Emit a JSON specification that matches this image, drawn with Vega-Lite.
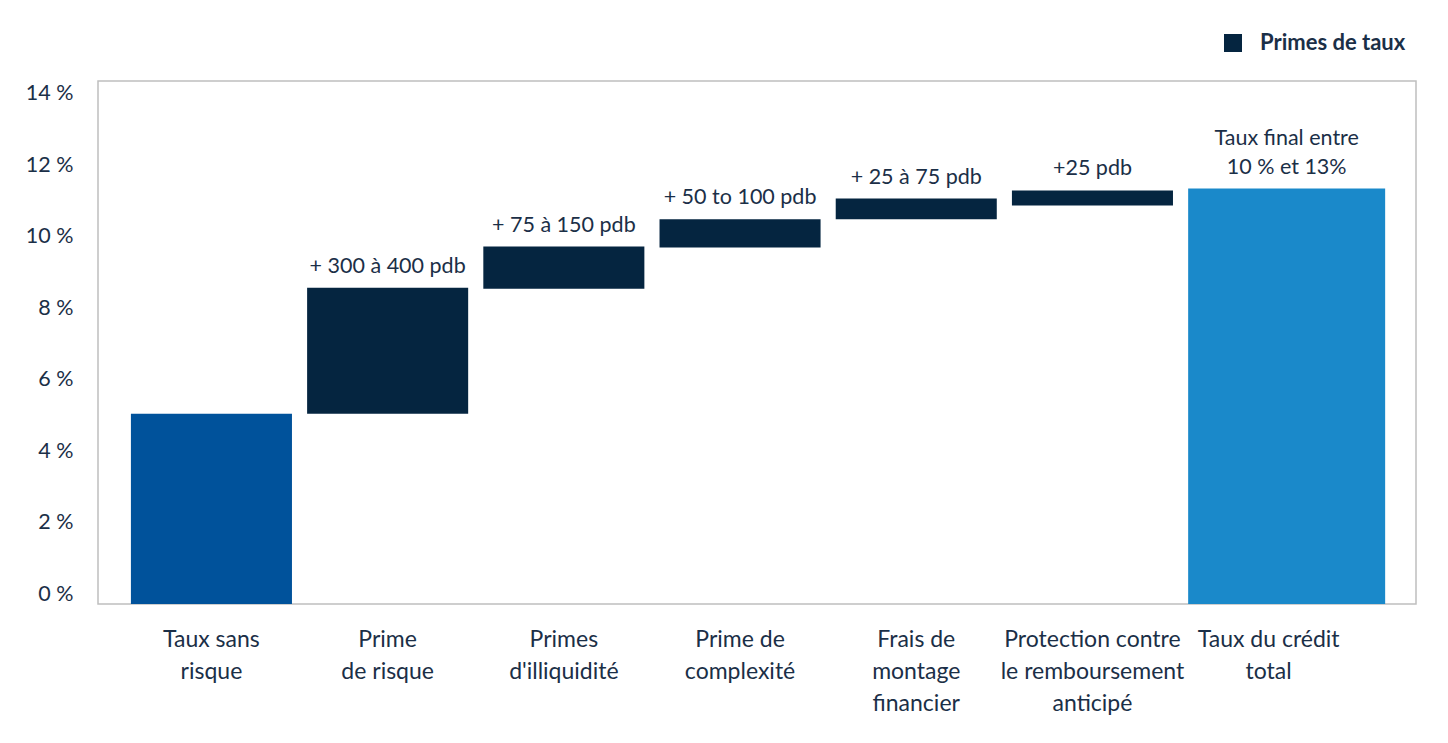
{
  "$schema": "https://vega.github.io/schema/vega-lite/v6.json",
  "width": 1318,
  "height": 523,
  "autosize": {"type": "none"},
  "padding": {"left": 98, "top": 81, "right": 32, "bottom": 139},
  "background": "#ffffff",
  "config": {
    "font": "Lato",
    "view": {"stroke": "#bfbfbf", "strokeWidth": 1.5},
    "text": {"font": "Lato", "color": "#1b2f47"}
  },
  "data": {
    "values": [
      {"category": "Taux sans\nrisque", "start": 0, "end": 5.32, "group": "Base", "label": ""},
      {"category": "Prime\nde risque", "start": 5.32, "end": 8.85, "group": "Primes de taux", "label": "+ 300 à 400 pdb"},
      {"category": "Primes\nd'illiquidité", "start": 8.82, "end": 10.0, "group": "Primes de taux", "label": "+ 75 à 150 pdb"},
      {"category": "Prime de\ncomplexité", "start": 9.97, "end": 10.76, "group": "Primes de taux", "label": "+ 50 to 100 pdb"},
      {"category": "Frais de\nmontage\nfinancier", "start": 10.76, "end": 11.34, "group": "Primes de taux", "label": "+ 25 à 75 pdb"},
      {"category": "Protection contre\nle remboursement\nanticipé", "start": 11.15, "end": 11.57, "group": "Primes de taux", "label": "+25 pdb"},
      {"category": "Taux du crédit\ntotal", "start": 0, "end": 11.62, "group": "Total", "label": "Taux final entre\n10 % et 13%"}
    ]
  },
  "encoding": {
    "x": {
      "field": "category",
      "type": "nominal",
      "sort": null,
      "scale": {"paddingInner": 0.086, "paddingOuter": 0.283, "align": 0.33},
      "axis": {
        "title": null,
        "labelAngle": 0,
        "domain": false,
        "ticks": false,
        "labelPadding": 24,
        "labelFontSize": 23,
        "labelLimit": 400,
        "labelColor": "#1b2f47",
        "labelLineHeight": 32,
        "labelExpr": "split(datum.label, '\\n')",
        "labelBaseline": "top"
      }
    },
    "y": {
      "field": "end",
      "type": "quantitative",
      "scale": {"domain": [0, 14.63], "nice": false, "zero": true},
      "axis": {
        "title": null,
        "values": [0, 2, 4, 6, 8, 10, 12, 14],
        "labelExpr": "datum.value + ' %'",
        "labelFontSize": 21.5,
        "labelColor": "#1b2f47",
        "labelPadding": 25,
        "labelOffset": -10,
        "domain": false,
        "ticks": false,
        "grid": false
      }
    }
  },
  "layer": [
    {
      "transform": [{"filter": "datum.group != 'Total'"}],
      "mark": {"type": "bar"},
      "encoding": {
        "y2": {"field": "start"},
        "color": {
          "field": "group",
          "type": "nominal",
          "scale": {"domain": ["Base", "Primes de taux", "Total"], "range": ["#00529b", "#052540", "#1a89ca"]},
          "legend": {
            "values": ["Primes de taux"],
            "title": null,
            "orient": "none",
            "legendX": 1124,
            "legendY": -49,
            "symbolType": "square",
            "symbolSize": 324,
            "symbolStrokeWidth": 0,
            "labelFontSize": 22,
            "labelFontWeight": "bold",
            "labelColor": "#1b2f47",
            "labelOffset": 16,
            "padding": 0
          }
        }
      }
    },
    {
      "transform": [{"filter": "datum.group == 'Total'"}],
      "mark": {"type": "bar", "width": 197, "xOffset": 18},
      "encoding": {
        "y2": {"field": "start"},
        "color": {"field": "group", "type": "nominal"}
      }
    },
    {
      "transform": [{"filter": "datum.group == 'Primes de taux'"}],
      "mark": {"type": "text", "baseline": "bottom", "dy": -10, "fontSize": 21.5},
      "encoding": {"text": {"field": "label"}}
    },
    {
      "transform": [{"filter": "datum.group == 'Total'"}],
      "mark": {"type": "text", "baseline": "bottom", "dy": -39, "dx": 18, "fontSize": 21.5, "lineBreak": "\n", "lineHeight": 29},
      "encoding": {"text": {"field": "label"}}
    }
  ]
}
